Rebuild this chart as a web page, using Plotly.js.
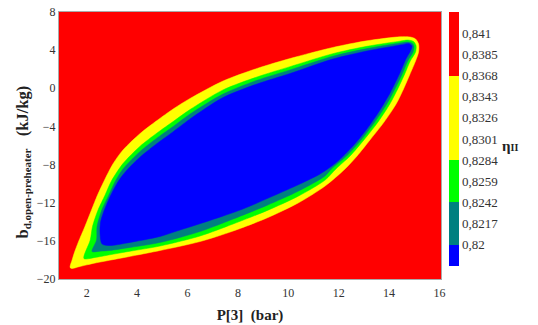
<!DOCTYPE html>
<html>
<head>
<meta charset="utf-8">
<script src="https://cdn.plot.ly/plotly-3.0.1.min.js"></script>
<style>html,body{margin:0;padding:0;background:#fff}#chart{width:538px;height:325px}</style>
</head>
<body>
<div id="chart"></div>
<script>
// Contour band boundaries (x: P[3] in bar, y: b_d in kJ/kg)
const yellowX = [1.34,1.42,1.52,1.67,1.93,2.19,2.43,2.69,3.04,3.44,4.12,4.79,5.46,6.10,7.41,8.76,10.07,11.77,13.12,14.43,14.83,15.05,15.17,15.17,15.05,14.83,14.59,14.29,13.80,13.24,12.73,12.25,11.46,10.39,9.15,7.81,6.50,4.91,3.60,2.25,1.65,1.42];
const yellowY = [-18.79,-18.01,-17.17,-16.12,-14.49,-12.76,-11.19,-9.72,-7.94,-6.47,-4.74,-3.38,-2.12,-1.07,0.76,2.08,3.12,4.28,4.98,5.40,5.38,5.17,4.64,3.81,2.86,1.50,0.03,-1.60,-3.54,-5.42,-7.10,-8.46,-10.25,-12.03,-13.60,-14.97,-16.07,-17.01,-17.69,-18.37,-18.74,-18.90];

const greenX = [1.89,2.14,2.23,2.45,2.73,2.98,3.44,4.12,4.79,5.46,6.10,7.41,8.76,10.07,11.77,13.12,14.43,14.75,14.97,15.07,15.05,14.84,14.62,14.36,14.04,13.56,13.00,12.45,11.89,11.46,10.39,9.15,7.81,6.50,4.91,3.60,2.92,2.33];
const greenY = [-17.85,-15.91,-14.49,-12.76,-11.19,-9.72,-7.89,-6.07,-4.69,-3.43,-2.23,-0.17,1.19,2.27,3.63,4.40,4.94,5.06,4.91,4.49,3.81,2.86,1.50,0.03,-1.60,-3.54,-5.42,-7.10,-8.46,-9.63,-11.32,-12.83,-14.23,-15.49,-16.54,-17.14,-17.46,-17.74];

const tealX = [2.21,2.39,2.41,2.60,2.88,3.14,3.44,4.12,4.79,5.46,6.10,7.41,8.76,10.07,11.77,13.12,14.43,14.77,14.93,14.99,14.95,14.74,14.52,14.25,13.92,13.43,12.89,12.31,11.71,11.46,10.39,9.15,7.81,6.50,4.91,3.60,2.92,2.53];
const tealY = [-17.12,-15.91,-14.49,-12.76,-11.19,-9.72,-8.46,-6.62,-5.21,-3.95,-2.70,-0.60,0.84,1.93,3.36,4.16,4.75,4.85,4.70,4.38,3.81,2.86,1.50,0.03,-1.60,-3.54,-5.42,-7.10,-8.46,-9.19,-10.80,-12.28,-13.71,-15.02,-16.17,-16.74,-17.01,-17.08];

const blueX = [2.61,2.53,2.55,2.67,2.92,3.26,3.60,4.12,4.79,5.42,6.10,7.41,8.76,10.07,11.77,13.12,14.43,14.79,14.91,14.83,14.69,14.43,14.04,13.64,13.12,12.57,11.93,11.26,10.46,9.39,8.20,6.89,5.58,4.91,3.60,2.92];
const blueY = [-16.33,-15.28,-14.02,-12.97,-11.40,-9.72,-8.57,-7.21,-5.79,-4.58,-3.22,-0.97,0.45,1.55,3.07,3.91,4.54,4.70,4.43,3.81,3.18,1.60,-0.49,-2.28,-4.27,-6.05,-7.73,-8.99,-10.04,-11.30,-12.66,-13.86,-14.97,-15.54,-16.22,-16.49];

// Colour bar levels (eta_II) and labels
const levels = [0.82,0.8217,0.8242,0.8259,0.8284,0.8301,0.8326,0.8343,0.8368,0.8385,0.841];
const levelLabels = levels.map(v => String(v).replace('.', ','));
const xTicks = [2,4,6,8,10,12,14,16];
const yTicks = [-20,-16,-12,-8,-4,0,4,8];

const RED = '#ff0000', YELLOW = '#ffff00', GREEN = '#00ff00', TEAL = '#008080', BLUE = '#0000ff';

function band(x, y, color) {
  return {type:'scatter', mode:'lines', x:x.concat([x[0]]), y:y.concat([y[0]]),
    fill:'toself', fillcolor:color, line:{color:color, width:0.5, shape:'spline', smoothing:0.8},
    hoverinfo:'skip', showlegend:false};
}

const n = levels.length + 1;
const cs = [
  [0, BLUE],[1/n, BLUE],[1/n, TEAL],[3/n, TEAL],[3/n, GREEN],[5/n, GREEN],
  [5/n, YELLOW],[9/n, YELLOW],[9/n, RED],[1, RED]
];

const serif = "'Liberation Serif', 'Times New Roman', serif";

const data = [
  band(yellowX, yellowY, YELLOW),
  band(greenX, greenY, GREEN),
  band(tealX, tealY, TEAL),
  band(blueX, blueY, BLUE),
  {type:'scatter', mode:'markers', x:[null], y:[null], hoverinfo:'skip', showlegend:false,
   marker:{color:[0, n], cmin:0, cmax:n, colorscale:cs, showscale:true, size:1,
     colorbar:{
       xref:'container', x:449/538, xanchor:'left', xpad:0,
       yref:'paper', y:(279-139)/267, yanchor:'middle', ypad:0,
       thickness:10, thicknessmode:'pixels', len:254, lenmode:'pixels',
       outlinewidth:0, ticks:'', ticklen:0,
       tickvals: levels.map((v,i) => i+1), ticktext: levelLabels,
       tickfont:{family:serif, size:13, color:'#333'}
     }}}
];

const layout = {
  width:538, height:325,
  margin:{l:59, r:97, t:12, b:46},
  paper_bgcolor:'#ffffff', plot_bgcolor:RED,
  showlegend:false, hovermode:false,
  font:{family:serif},
  xaxis:{range:[0.9,16.06], tickvals:xTicks, ticks:'', showgrid:false, zeroline:false,
    showline:true, linecolor:'#aaaaaa', linewidth:1, mirror:true, ticklabelstandoff:3,
    tickfont:{family:serif, size:12, color:'#333'},
    title:{text:'<b>P[3]&nbsp;&nbsp;(bar)</b>', font:{family:serif, size:15, color:'#222'}, standoff:10}},
  yaxis:{range:[-20,8], tickvals:yTicks, ticks:'', showgrid:false, zeroline:false,
    showline:true, linecolor:'#aaaaaa', linewidth:1, mirror:true,
    tickfont:{family:serif, size:12, color:'#333'}},
  annotations:[
    {xref:'paper', yref:'paper', x:(510-59)/382, y:(279-146)/267, xanchor:'center', yanchor:'middle',
     showarrow:false, text:'<b>η<span style="font-size:10px">II</span></b>', font:{family:serif, size:15, color:'#222'}},
    {xref:'paper', yref:'paper', x:(22.5-59)/382, y:(279-162)/267, xanchor:'center', yanchor:'middle',
     showarrow:false, textangle:-90,
     text:'<b>b<sub><span style="font-size:11px">d,open-preheater</span></sub>&nbsp;&nbsp;&nbsp;(kJ/kg)</b>',
     font:{family:serif, size:16.5, color:'#222'}}
  ]
};

Plotly.newPlot('chart', data, layout, {displayModeBar:false, staticPlot:true});
</script>
</body>
</html>
